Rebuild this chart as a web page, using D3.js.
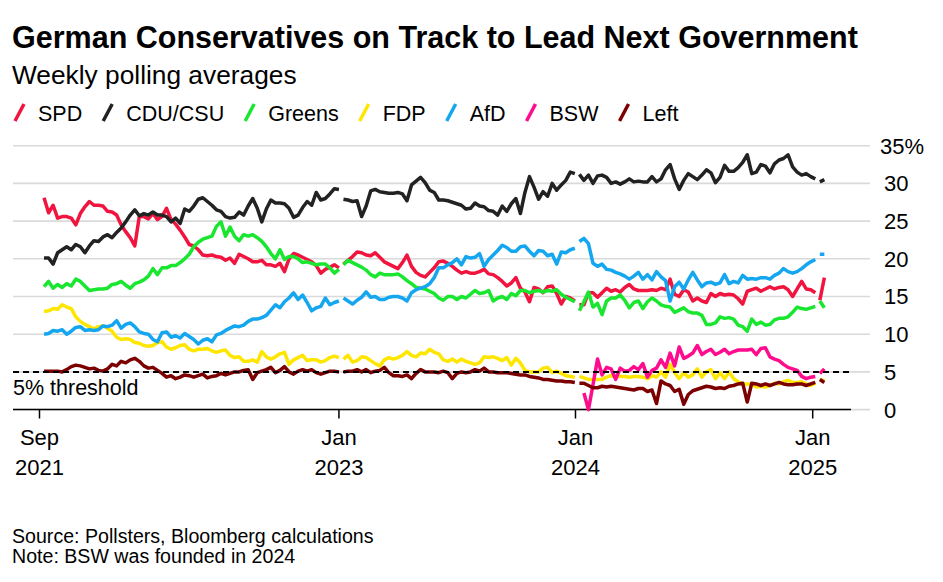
<!DOCTYPE html>
<html><head><meta charset="utf-8">
<script src="https://cdn.jsdelivr.net/npm/d3@7"></script>
<style>
body{margin:0;background:#fff;}
svg{display:block;font-family:"Liberation Sans",Arial,Helvetica,sans-serif;}
</style></head><body>
<svg id="chart" width="943" height="582"></svg>
<script>
// ---------- DATA ----------
const firstWeek = "2021-10-03";   // weekly polling averages, one value per week
const weekCount = 173;
const segmentStarts = [66, 118, 171]; // line breaks (holiday gaps)

const spd = [28.1,26.1,27.1,25.4,25.6,25.6,25.4,24.5,26.0,26.9,
27.6,27.1,27.1,27.0,26.3,26.2,25.8,24.5,23.6,22.8,
21.7,25.6,25.6,25.3,26.0,25.2,25.6,26.7,25.2,24.6,
23.8,22.9,21.9,21.7,21.2,20.5,20.4,20.5,20.3,20.2,
19.8,20.1,19.4,20.6,20.3,20.0,19.6,19.6,19.8,19.2,
19.2,19.0,19.4,18.3,20.0,20.7,20.5,20.2,19.9,19.6,
19.1,18.1,18.6,18.9,19.2,18.8,19.3,19.8,20.3,20.9,
20.8,20.5,20.4,20.8,20.2,19.6,19.3,19.0,18.7,19.5,
20.5,19.0,18.2,17.8,17.6,18.2,18.8,19.6,19.7,19.4,
19.0,18.5,18.1,18.3,18.1,18.1,18.3,18.6,18.0,17.9,
17.5,17.0,16.4,16.8,17.5,16.1,15.6,14.3,16.2,16.0,
15.5,16.3,16.4,15.4,14.0,15.0,14.8,14.4,13.9,13.9,
15.5,15.5,14.9,15.5,16.1,15.7,15.9,15.6,16.2,16.6,
16.0,15.8,15.8,15.8,15.9,15.8,16.1,15.9,17.3,15.3,
15.0,15.9,15.6,14.4,14.8,14.4,14.2,15.4,15.0,15.4,
15.2,15.3,15.2,14.7,14.0,15.7,15.9,16.1,15.7,16.0,
16.3,16.0,16.2,16.3,15.9,15.0,16.0,17.0,16.0,15.9,
15.5,14.5,17.5];

const cdu = [20.1,20.1,19.3,20.8,21.2,21.6,21.2,21.9,21.6,20.8,
21.7,22.4,22.3,22.9,23.2,22.8,23.5,24.1,24.9,25.8,
26.5,25.7,26.0,25.8,26.2,25.8,25.8,25.6,24.9,25.4,
24.7,26.6,26.3,27.0,27.9,28.1,27.6,27.1,26.5,26.3,
25.6,25.4,25.5,26.2,25.8,27.0,28.0,26.7,24.9,26.6,
27.8,27.4,27.4,27.3,26.7,25.5,25.8,26.8,27.6,27.1,
28.8,27.8,28.0,28.6,29.3,29.2,27.9,27.8,27.6,27.7,
25.6,27.0,29.0,29.2,28.9,28.8,28.7,28.7,28.8,28.6,
27.7,29.8,30.3,30.8,30.1,29.1,28.8,27.8,27.8,27.7,
27.5,27.3,27.1,26.6,26.7,27.4,27.0,26.9,26.4,26.3,
25.8,27.0,26.3,27.3,28.0,26.0,28.8,30.9,29.5,27.9,
28.9,28.3,30.0,29.1,29.8,30.4,31.5,31.3,31.2,30.4,
31.1,30.0,31.0,31.1,30.8,30.0,30.2,29.9,30.2,30.6,
30.2,30.3,30.2,30.2,30.9,30.2,30.6,31.8,32.5,30.6,
29.2,30.4,31.3,30.9,30.5,31.1,31.8,31.4,30.1,30.8,
32.4,31.6,31.6,32.1,32.8,33.8,31.3,31.5,32.5,32.3,
31.4,32.6,33.1,33.3,33.8,32.2,31.5,31.1,31.3,30.9,
30.6,30.2,30.5];

const greens = [16.3,17.0,16.1,16.6,16.2,16.7,16.4,17.3,17.0,16.4,
15.8,15.9,16.0,16.0,16.1,16.6,16.7,17.0,16.5,16.1,
16.7,16.9,17.2,17.7,18.7,17.9,18.8,18.8,19.1,19.1,
19.5,20.0,20.6,21.6,22.2,22.6,22.8,23.0,24.3,24.9,
23.0,24.2,23.0,22.4,23.2,23.0,23.2,22.8,22.3,21.6,
20.7,20.0,21.2,19.9,20.3,20.3,20.0,19.5,19.6,19.4,
19.2,19.3,19.3,18.8,18.1,18.6,19.2,19.8,19.5,19.2,
18.9,18.5,17.9,17.6,18.1,17.9,17.9,17.9,18.0,17.6,
17.1,16.7,16.2,16.1,16.0,15.7,15.4,14.8,14.5,15.0,
15.0,14.6,15.0,14.8,15.3,15.8,15.4,15.5,15.8,14.4,
14.8,15.0,14.6,15.4,15.1,15.8,15.8,15.5,15.7,15.8,
15.6,15.8,15.7,15.9,15.3,14.9,14.6,14.3,13.1,14.3,
15.6,13.6,14.1,12.6,14.4,14.8,14.8,15.2,14.5,13.5,
14.2,14.4,13.4,14.3,14.8,14.4,13.9,13.7,13.6,12.9,
13.2,13.5,13.0,12.8,12.8,12.5,11.3,11.3,11.5,12.3,
12.1,12.2,12.0,11.2,11.0,10.4,12.0,11.3,11.6,11.2,
11.3,11.9,12.1,12.1,12.3,12.9,13.6,13.4,13.3,13.5,
13.7,14.4,13.5];

const fdp = [13.0,13.1,13.4,13.3,13.9,13.6,13.4,12.3,11.7,11.3,
11.0,10.7,11.0,11.1,10.8,10.4,9.6,9.3,9.4,9.3,
8.9,8.8,8.5,8.4,8.5,8.9,9.0,8.3,8.0,8.2,
8.5,8.6,8.0,7.8,8.0,8.0,8.1,7.8,7.6,7.8,
7.9,7.2,6.9,7.0,6.4,6.4,6.6,6.3,7.7,7.0,
6.7,7.0,7.4,7.6,6.0,6.6,6.9,7.2,6.5,6.6,
6.6,6.3,6.5,6.9,7.1,6.9,6.7,7.2,6.3,6.5,
7.0,6.9,6.5,6.1,5.8,6.6,6.9,6.7,6.9,7.2,
7.7,7.2,7.0,7.5,7.4,8.0,7.6,7.4,6.6,6.4,
6.7,6.3,6.7,6.4,6.2,6.0,6.2,7.0,6.9,7.0,
6.8,6.5,6.9,5.9,6.8,6.2,5.2,5.0,5.0,5.0,
5.5,5.6,4.9,5.1,4.8,4.5,4.4,4.3,4.4,4.2,
4.0,4.0,4.0,4.0,4.3,4.5,4.4,4.4,4.4,4.3,
4.4,4.4,4.3,4.1,4.5,4.3,5.0,4.3,6.0,4.9,
4.1,4.9,4.3,4.6,5.4,4.3,5.0,5.3,4.1,4.9,
4.1,5.0,4.1,3.7,3.4,3.4,3.3,3.0,3.1,3.0,
3.2,3.5,3.4,3.7,3.9,3.6,3.6,3.7,3.4,3.2,
3.5,4.0,3.8];

const afd = [10.0,10.1,10.5,10.4,10.6,10.0,10.4,10.9,11.0,10.5,
10.6,10.5,10.6,11.1,11.0,11.2,11.8,10.8,11.3,11.5,
11.0,10.3,10.1,10.0,9.3,9.0,10.2,10.3,9.6,9.8,
9.5,10.1,9.7,9.3,8.7,9.2,9.4,9.0,9.9,10.1,
10.5,10.8,11.1,11.0,11.2,11.7,12.0,12.0,12.2,12.5,
13.2,13.9,13.5,14.3,14.8,15.5,14.6,15.2,14.2,13.1,
13.5,13.7,14.8,13.9,14.2,14.4,14.8,14.4,14.0,14.5,
14.9,15.6,14.9,15.0,14.6,14.6,14.9,15.0,15.0,14.8,
14.4,15.5,15.9,16.1,16.3,16.7,17.5,18.8,18.8,19.2,
19.5,20.0,19.2,20.3,20.1,20.2,20.7,19.0,19.9,20.5,
21.1,21.8,21.5,21.0,21.0,21.6,21.7,21.0,20.4,21.1,
21.0,20.4,20.6,19.3,20.9,20.8,21.2,21.4,22.3,22.7,
22.0,19.4,19.0,19.3,18.6,18.5,18.2,18.0,17.7,17.3,
17.7,18.2,17.3,17.9,17.2,18.3,17.6,17.1,14.4,16.3,
16.9,16.0,17.2,18.2,17.2,16.3,16.8,16.9,16.6,16.8,
17.9,16.7,17.0,16.8,17.8,17.3,17.4,17.3,17.5,17.5,
17.3,17.8,18.1,18.7,18.3,18.1,18.3,18.7,19.2,19.6,
19.9,20.6,20.6];

const bswFirstWeek = 119;   // BSW founded in January 2024
const bsw = [2.2,0.0,3.3,6.7,4.6,5.6,5.4,4.0,5.5,5.1,5.2,
5.7,5.3,6.1,4.3,5.2,5.5,6.6,5.6,7.5,5.8,
8.3,6.8,7.1,7.5,8.5,7.3,7.7,8.0,7.3,7.6,
8.0,7.4,7.7,7.9,7.9,7.9,8.0,7.3,8.1,8.2,
7.0,6.7,6.5,6.0,5.6,5.4,5.2,4.4,4.1,4.3,
4.4,4.8,5.4];

const left = [5.1,5.1,5.1,5.1,5.0,5.3,5.7,5.9,5.8,5.6,
5.4,5.5,5.2,5.1,5.4,6.0,5.8,6.4,6.2,6.6,
6.8,6.4,5.8,5.5,5.6,5.2,4.8,4.3,4.5,4.1,
4.3,4.6,4.5,4.3,4.5,4.7,4.2,4.4,4.5,4.8,
4.6,4.8,5.0,5.0,5.2,5.3,4.0,4.9,5.1,5.3,
5.6,4.9,5.2,5.7,5.0,4.7,5.1,5.3,5.1,5.3,
4.9,4.7,4.9,5.1,5.1,5.0,5.0,5.1,5.1,5.3,
5.0,5.3,4.9,5.1,5.2,5.6,4.9,4.5,4.5,4.4,
4.6,4.1,4.8,5.3,5.0,5.0,5.0,4.9,5.1,4.9,
4.1,4.8,5.0,4.9,5.0,5.3,5.1,5.5,5.0,5.0,
4.9,4.9,4.9,4.8,4.7,4.6,4.6,4.4,4.3,4.2,
4.0,4.0,3.9,3.8,3.8,3.7,3.7,3.6,3.5,3.5,
3.2,2.9,2.9,3.1,3.0,3.1,3.0,2.9,2.8,2.7,
2.6,2.8,2.8,2.4,2.6,0.8,3.8,3.4,3.2,2.4,
2.7,0.7,2.0,2.5,2.7,2.9,3.1,3.0,2.8,2.9,
2.8,3.1,3.2,3.4,3.5,1.0,3.5,3.4,3.2,3.4,
3.2,3.4,3.6,3.4,3.3,3.3,3.4,3.4,3.2,3.4,
3.6,4.0,3.6];

const partyNames  = ["SPD","CDU/CSU","Greens","FDP","AfD","BSW","Left"];
const partyColors = ["#f0143f","#222222","#19e62f","#ffe600","#14a7ef","#ff0b8e","#7d0000"];
const xTickDates  = ["2021-09-26","2023-01-01","2024-01-01","2025-01-01"];
const xTickMonths = ["Sep","Jan","Jan","Jan"];
const xTickYears  = ["2021","2023","2024","2025"];
const yTicks      = [0,5,10,15,20,25,30,35];
const threshold   = 5;

// ---------- BUILD ----------
const parse = d3.timeParse("%Y-%m-%d");
const week0 = parse(firstWeek);
const weeks = d3.range(weekCount).map(i => d3.timeDay.offset(week0, 7 * i));
const bswFull = new Array(bswFirstWeek).fill(null).concat(bsw);
const seriesValues = [spd, cdu, greens, fdp, afd, bswFull, left];

const svg = d3.select("#chart");

const x = d3.scaleTime()
  .domain([parse(xTickDates[0]), parse(xTickDates[3])])
  .range([39.5, 812.7]);
const y = d3.scaleLinear().domain([0, 35]).range([409.6, 145.7]);

// Title & subtitle
svg.append("text").attr("x", 12).attr("y", 48)
  .attr("font-size", 30.5).attr("font-weight", "bold").attr("fill", "#000")
  .text("German Conservatives on Track to Lead Next Government");
svg.append("text").attr("x", 12).attr("y", 84)
  .attr("font-size", 26.3).attr("fill", "#000")
  .text("Weekly polling averages");

// Legend
const legend = svg.append("g");
let lx = 15;
partyNames.forEach((name, k) => {
  legend.append("line")
    .attr("x1", lx).attr("y1", 121).attr("x2", lx + 9).attr("y2", 104)
    .attr("stroke", partyColors[k]).attr("stroke-width", 3.5);
  const t = legend.append("text").attr("x", lx + 23).attr("y", 120.5)
    .attr("font-size", 21.5).attr("fill", "#000").text(name);
  lx += 23 + t.node().getComputedTextLength() + 21;
});

// Gridlines
svg.append("g").selectAll("line").data(yTicks).join("line")
  .attr("x1", 13).attr("x2", 870)
  .attr("y1", d => y(d)).attr("y2", d => y(d))
  .attr("stroke", "#dadada").attr("stroke-width", 1.6);

// Y labels
svg.append("g").selectAll("text").data(yTicks).join("text")
  .attr("x", d => d === 35 ? 880 : 884)
  .attr("y", d => y(d)).attr("dy", "0.36em")
  .attr("font-size", 22).attr("fill", "#000")
  .text(d => d === 35 ? "35%" : d);

// X axis
svg.append("line").attr("x1", 13).attr("x2", 851)
  .attr("y1", y(0)).attr("y2", y(0))
  .attr("stroke", "#000").attr("stroke-width", 1.5);
const xt = svg.append("g").selectAll("g").data(xTickDates).join("g")
  .attr("transform", d => `translate(${x(parse(d))},0)`);
xt.append("line").attr("y1", y(0)).attr("y2", 418.5)
  .attr("stroke", "#000").attr("stroke-width", 1.5);
xt.append("text").attr("y", 445).attr("text-anchor", "middle")
  .attr("font-size", 22).attr("fill", "#000")
  .text((d, i) => xTickMonths[i]);
xt.append("text").attr("y", 475).attr("text-anchor", "middle")
  .attr("font-size", 22).attr("fill", "#000")
  .text((d, i) => xTickYears[i]);

// Series lines (segments split at holiday breaks)
const line = d3.line()
  .defined(d => d.v != null)
  .x(d => x(d.date)).y(d => y(d.v));
const bounds = [0, ...segmentStarts, weekCount];
const lines = svg.append("g");
seriesValues.forEach((vals, k) => {
  const pts = weeks.map((date, i) => ({date, v: vals[i], i}));
  for (let s = 0; s < bounds.length - 1; s++) {
    const seg = pts.slice(bounds[s], bounds[s + 1]);
    lines.append("path").datum(seg)
      .attr("d", line)
      .attr("fill", "none")
      .attr("stroke", partyColors[k])
      .attr("stroke-width", 3.5)
      .attr("stroke-linejoin", "round")
      .attr("stroke-linecap", "butt");
  }
});

// 5% threshold
svg.append("line").attr("x1", 13).attr("x2", 851)
  .attr("y1", y(threshold)).attr("y2", y(threshold))
  .attr("stroke", "#000").attr("stroke-width", 2)
  .attr("stroke-dasharray", "6,4");
svg.append("text").attr("x", 13).attr("y", 395)
  .attr("font-size", 21.5).attr("fill", "#000").text("5% threshold");

// Footer
svg.append("text").attr("x", 12).attr("y", 543)
  .attr("font-size", 19.6).attr("fill", "#000")
  .text("Source: Pollsters, Bloomberg calculations");
svg.append("text").attr("x", 12).attr("y", 563)
  .attr("font-size", 19.6).attr("fill", "#000")
  .text("Note: BSW was founded in 2024");
</script>
</body></html>
